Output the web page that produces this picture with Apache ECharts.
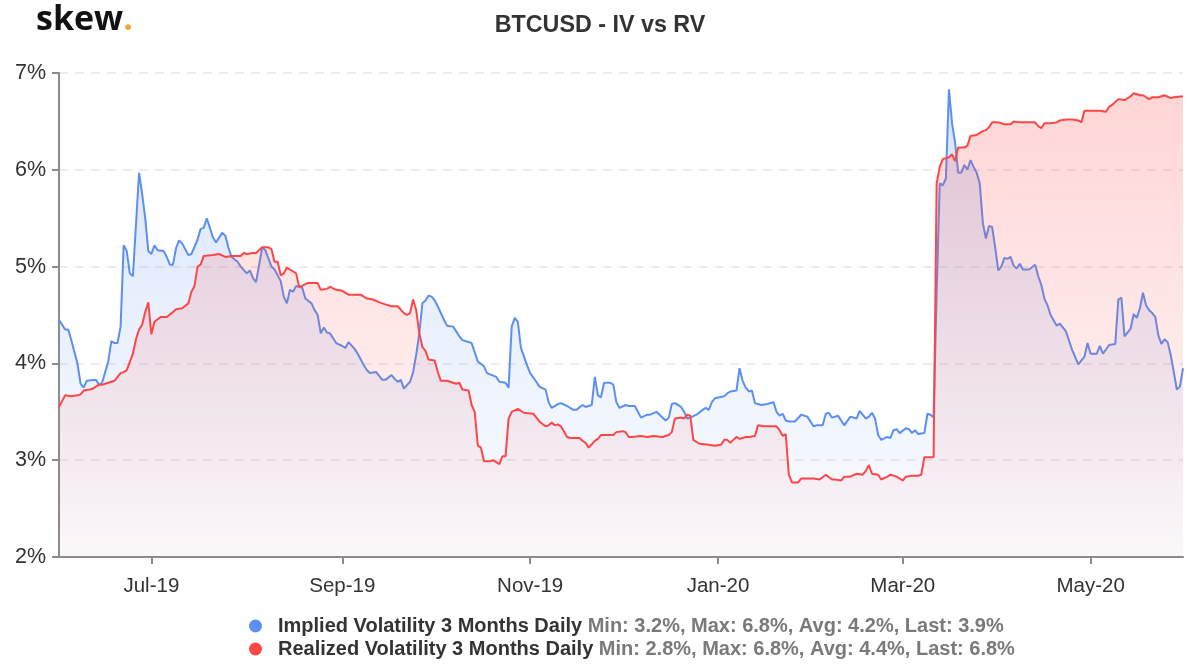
<!DOCTYPE html>
<html><head><meta charset="utf-8">
<script src="https://cdn.jsdelivr.net/npm/echarts@6/dist/echarts.min.js"></script>
<style>html,body{margin:0;padding:0;background:#fff}#c{width:1200px;height:670px}</style>
</head><body><div id="c"></div>
<script>
// Day offsets are counted from the first date of the chart (2019-06-01)
const startDate = [2019, 5, 1];
const titleText = 'BTCUSD - IV vs RV';
const seriesNames = ['Implied Volatility 3 Months Daily', 'Realized Volatility 3 Months Daily'];
const seriesStats = ['Min: 3.2%, Max: 6.8%, Avg: 4.2%, Last: 3.9%', 'Min: 2.8%, Max: 6.8%, Avg: 4.4%, Last: 6.8%'];
const tickDates = [[2019,6,1],[2019,8,1],[2019,10,1],[2020,0,1],[2020,2,1],[2020,4,1]];
const tickLabels = ['Jul-19','Sep-19','Nov-19','Jan-20','Mar-20','May-20'];
const yTicks = [2, 3, 4, 5, 6, 7];
const lastDay = 365;

// [day offset, implied vol %]
const ivPoints = [[0,4.45],[2,4.35],[3,4.35],[4,4.24],[6,4.0],[7,3.79],[8,3.75],[9,3.82],[12,3.83],[13,3.78],[14,3.8],[16,4.02],[17,4.23],[18,4.21],[19,4.21],[20,4.38],[21,5.22],[22,5.16],[23,4.93],[24,4.9],[26,5.97],[27,5.75],[28,5.5],[29,5.16],[30,5.13],[31,5.22],[32,5.17],[34,5.16],[35,5.1],[36,5.02],[37,5.02],[38,5.19],[39,5.27],[40,5.24],[41,5.18],[42,5.12],[43,5.13],[45,5.28],[46,5.39],[47,5.4],[48,5.5],[49,5.4],[50,5.3],[51,5.25],[53,5.35],[54,5.32],[55,5.2],[56,5.1],[58,5.05],[59,5.0],[61,4.93],[62,4.96],[63,4.88],[64,4.84],[66,5.2],[67,5.17],[69,5.0],[70,4.97],[72,4.85],[73,4.69],[74,4.62],[75,4.76],[76,4.74],[77,4.8],[79,4.78],[80,4.67],[82,4.62],[83,4.55],[84,4.5],[85,4.31],[86,4.37],[87,4.32],[88,4.31],[90,4.21],[92,4.18],[93,4.16],[94,4.22],[96,4.15],[97,4.1],[99,3.98],[100,3.93],[101,3.9],[103,3.91],[105,3.83],[106,3.83],[108,3.88],[109,3.84],[110,3.81],[111,3.83],[112,3.74],[114,3.81],[115,3.91],[116,4.09],[117,4.31],[118,4.62],[119,4.65],[120,4.7],[121,4.69],[122,4.65],[123,4.59],[125,4.45],[126,4.39],[128,4.38],[130,4.28],[131,4.24],[134,4.21],[136,4.02],[138,3.97],[139,3.9],[142,3.86],[143,3.81],[145,3.8],[146,3.75],[147,4.38],[148,4.47],[149,4.43],[150,4.16],[152,3.98],[153,3.9],[155,3.81],[156,3.76],[158,3.73],[159,3.6],[160,3.54],[162,3.58],[163,3.59],[165,3.56],[167,3.52],[168,3.52],[170,3.57],[171,3.55],[173,3.57],[174,3.86],[175,3.67],[176,3.65],[177,3.8],[179,3.8],[180,3.78],[181,3.6],[182,3.54],[184,3.57],[185,3.56],[187,3.56],[188,3.5],[189,3.44],[191,3.47],[192,3.47],[194,3.5],[195,3.47],[197,3.41],[198,3.44],[199,3.58],[200,3.59],[202,3.55],[203,3.5],[204,3.43],[205,3.44],[207,3.47],[209,3.52],[210,3.54],[211,3.52],[212,3.6],[213,3.64],[216,3.66],[217,3.69],[218,3.71],[220,3.72],[221,3.95],[222,3.82],[223,3.75],[224,3.71],[225,3.72],[226,3.59],[228,3.57],[230,3.58],[232,3.6],[233,3.5],[234,3.46],[235,3.48],[236,3.41],[237,3.4],[239,3.4],[241,3.47],[243,3.45],[245,3.35],[246,3.36],[248,3.36],[249,3.48],[250,3.49],[251,3.44],[253,3.46],[255,3.36],[257,3.45],[259,3.43],[260,3.51],[262,3.43],[263,3.45],[264,3.49],[265,3.43],[266,3.26],[267,3.21],[269,3.24],[270,3.23],[271,3.31],[272,3.32],[273,3.28],[275,3.33],[276,3.32],[277,3.28],[278,3.31],[279,3.27],[281,3.28],[282,3.48],[283,3.47],[284,3.44],[285,4.72],[286,5.86],[287,5.84],[288,5.91],[289,6.83],[290,6.48],[291,6.28],[292,5.97],[293,5.97],[294,6.05],[295,6.0],[296,6.1],[297,6.03],[298,5.97],[299,5.86],[300,5.45],[301,5.29],[302,5.42],[303,5.41],[304,5.2],[305,4.96],[306,5.0],[307,5.09],[308,5.08],[309,5.1],[310,5.01],[311,4.98],[312,5.03],[313,4.97],[315,4.97],[317,5.02],[318,4.9],[319,4.81],[320,4.67],[321,4.6],[322,4.5],[324,4.39],[325,4.41],[327,4.33],[329,4.14],[331,3.99],[333,4.07],[334,4.21],[335,4.1],[337,4.1],[338,4.18],[339,4.1],[341,4.19],[343,4.2],[344,4.66],[345,4.68],[346,4.28],[348,4.36],[349,4.51],[350,4.47],[351,4.57],[352,4.73],[353,4.6],[354,4.55],[355,4.52],[356,4.48],[357,4.29],[358,4.2],[359,4.25],[360,4.22],[361,4.09],[363,3.73],[364,3.76],[365,3.95]];

// [day offset, realized vol %]
const rvPoints = [[0,3.55],[2,3.67],[4,3.66],[6,3.67],[7,3.68],[8,3.72],[10,3.73],[11,3.74],[13,3.78],[14,3.78],[16,3.8],[18,3.82],[20,3.9],[21,3.91],[22,3.93],[24,4.1],[25,4.25],[26,4.35],[27,4.4],[28,4.53],[29,4.63],[30,4.3],[31,4.43],[33,4.48],[35,4.48],[37,4.53],[38,4.56],[40,4.57],[42,4.62],[43,4.74],[44,4.8],[45,5.0],[46,5.02],[47,5.11],[50,5.12],[52,5.13],[54,5.1],[56,5.11],[59,5.11],[60,5.14],[61,5.13],[63,5.14],[64,5.14],[66,5.2],[68,5.2],[69,5.18],[70,5.05],[71,5.05],[72,4.91],[73,4.93],[74,4.99],[75,4.97],[77,4.93],[78,4.79],[79,4.8],[80,4.82],[81,4.83],[84,4.83],[85,4.76],[87,4.77],[88,4.79],[90,4.76],[92,4.75],[94,4.71],[98,4.71],[100,4.67],[102,4.66],[104,4.63],[106,4.61],[108,4.59],[110,4.59],[112,4.52],[113,4.5],[114,4.52],[115,4.66],[116,4.55],[117,4.31],[118,4.17],[119,4.13],[120,4.04],[122,4.03],[123,3.91],[124,3.82],[126,3.82],[128,3.8],[129,3.79],[130,3.8],[131,3.73],[133,3.72],[134,3.57],[135,3.5],[136,3.15],[137,3.13],[138,2.99],[140,2.99],[141,3.0],[142,2.98],[143,2.96],[144,3.04],[145,3.04],[146,3.43],[147,3.5],[149,3.53],[151,3.49],[154,3.48],[156,3.4],[158,3.35],[159,3.36],[160,3.39],[161,3.36],[162,3.37],[163,3.35],[165,3.24],[166,3.23],[169,3.23],[170,3.2],[171,3.18],[172,3.13],[174,3.2],[175,3.22],[176,3.26],[178,3.26],[180,3.26],[181,3.29],[183,3.3],[184,3.29],[185,3.24],[186,3.24],[189,3.25],[191,3.24],[193,3.25],[196,3.24],[198,3.26],[199,3.29],[200,3.43],[202,3.44],[203,3.43],[204,3.47],[205,3.46],[206,3.21],[208,3.17],[211,3.16],[213,3.15],[215,3.16],[216,3.21],[217,3.21],[218,3.18],[219,3.21],[220,3.24],[221,3.22],[223,3.24],[224,3.24],[226,3.25],[227,3.36],[229,3.35],[231,3.35],[233,3.35],[234,3.31],[235,3.25],[236,3.27],[237,2.85],[238,2.77],[240,2.77],[241,2.81],[243,2.81],[245,2.81],[247,2.8],[249,2.85],[251,2.8],[252,2.8],[254,2.79],[255,2.83],[257,2.83],[259,2.86],[261,2.85],[262,2.89],[263,2.95],[264,2.86],[266,2.85],[267,2.8],[269,2.83],[270,2.85],[272,2.83],[274,2.79],[275,2.83],[277,2.84],[279,2.84],[280,2.85],[281,3.03],[283,3.03],[284,3.03],[285,5.86],[286,6.03],[287,6.11],[289,6.13],[290,6.16],[291,6.09],[292,6.23],[294,6.23],[295,6.25],[296,6.35],[298,6.36],[300,6.4],[301,6.41],[302,6.44],[303,6.49],[305,6.49],[307,6.47],[309,6.47],[310,6.5],[312,6.49],[314,6.49],[315,6.49],[317,6.49],[318,6.45],[319,6.43],[320,6.48],[322,6.48],[324,6.49],[325,6.51],[327,6.52],[329,6.52],[331,6.51],[332,6.49],[333,6.61],[335,6.61],[338,6.61],[340,6.6],[341,6.65],[342,6.67],[344,6.73],[346,6.72],[348,6.76],[349,6.79],[351,6.77],[352,6.77],[354,6.73],[355,6.75],[357,6.75],[359,6.77],[361,6.74],[362,6.75],[365,6.76]];

const DAY = 86400000;
const t0 = Date.UTC(startDate[0], startDate[1], startDate[2]);
const tickDays = tickDates.map(t => Math.round((Date.UTC(t[0], t[1], t[2]) - t0) / DAY));
const labelFor = v => {
  let best = 0, bd = Infinity;
  tickDays.forEach((t, i) => { const d = Math.abs(t - v); if (d < bd) { bd = d; best = i; } });
  return tickLabels[best];
};

const FONT = '"Liberation Sans", Arial, sans-serif';
const chart = echarts.init(document.getElementById('c'), null, { renderer: 'canvas' });
const ivColor = '#5b8ff0', rvColor = '#ff4646';
chart.setOption({
  animation: false,
  backgroundColor: '#ffffff',
  title: {
    text: titleText, left: 'center', top: 9,
    textStyle: { fontFamily: FONT, fontSize: 23.3, fontWeight: 'bold', color: '#333333' }
  },
  graphic: [{
    type: 'text', left: 36, top: 3,
    style: {
      text: '{a|skew}{b|.}',
      rich: {
        a: { fontFamily: '"Open Sans", sans-serif', fontWeight: 'bold', fontSize: 34, fill: '#111111' },
        b: { fontFamily: '"Open Sans", sans-serif', fontWeight: 'bold', fontSize: 34, fill: '#f0a830' }
      }
    }
  }],
  legend: {
    orient: 'vertical', left: 244, top: 611, itemGap: 3,
    icon: 'circle', itemWidth: 13, itemHeight: 13,
    selectedMode: false,
    data: seriesNames,
    formatter: name => '{n|' + name + '} {s|' + seriesStats[seriesNames.indexOf(name)] + '}',
    textStyle: {
      fontFamily: FONT, fontSize: 20, fontWeight: 'bold', lineHeight: 20,
      rich: {
        n: { fontFamily: FONT, fontSize: 20, fontWeight: 'bold', color: '#333333', padding: [0, 0, 0, 11] },
        s: { fontFamily: FONT, fontSize: 20, fontWeight: 'bold', color: '#7a7a7a' }
      }
    }
  },
  grid: { left: 59, right: 17, top: 73, bottom: 113, containLabel: false },
  xAxis: {
    type: 'value', min: 0, max: lastDay,
    axisLine: { show: true, onZero: false, lineStyle: { color: '#8c8c8c', width: 2 } },
    axisTick: { show: true, customValues: tickDays, length: 7, lineStyle: { color: '#8c8c8c', width: 2 } },
    axisLabel: { customValues: tickDays, formatter: v => labelFor(v), margin: 19, fontFamily: FONT, fontSize: 20.5, color: '#333333' },
    splitLine: { show: false }
  },
  yAxis: {
    type: 'value', min: yTicks[0], max: yTicks[yTicks.length - 1], interval: 1,
    axisLine: { show: true, lineStyle: { color: '#8c8c8c', width: 2 } },
    axisTick: { show: true, length: 7, lineStyle: { color: '#8c8c8c', width: 2 } },
    axisLabel: { formatter: '{value}%', margin: 13, fontFamily: FONT, fontSize: 21.5, color: '#333333' },
    splitLine: { show: true, lineStyle: { color: '#e6e6e6', width: 1.5, type: [9, 7] } }
  },
  series: [
    {
      name: seriesNames[0], type: 'line', data: ivPoints,
      symbol: 'none', showSymbol: false, z: 2,
      lineStyle: { color: ivColor, width: 2 }, itemStyle: { color: ivColor },
      areaStyle: {
        origin: 'start',
        color: new echarts.graphic.LinearGradient(0, 0, 0, 1, [
          { offset: 0, color: 'rgba(91,143,240,0.34)' },
          { offset: 1, color: 'rgba(91,143,240,0.03)' }
        ])
      }
    },
    {
      name: seriesNames[1], type: 'line', data: rvPoints,
      symbol: 'none', showSymbol: false, z: 3,
      lineStyle: { color: rvColor, width: 2 }, itemStyle: { color: rvColor },
      areaStyle: {
        origin: 'start',
        color: new echarts.graphic.LinearGradient(0, 0, 0, 1, [
          { offset: 0, color: 'rgba(255,70,70,0.32)' },
          { offset: 1, color: 'rgba(255,70,70,0.04)' }
        ])
      }
    }
  ]
});
</script>
</body></html>
